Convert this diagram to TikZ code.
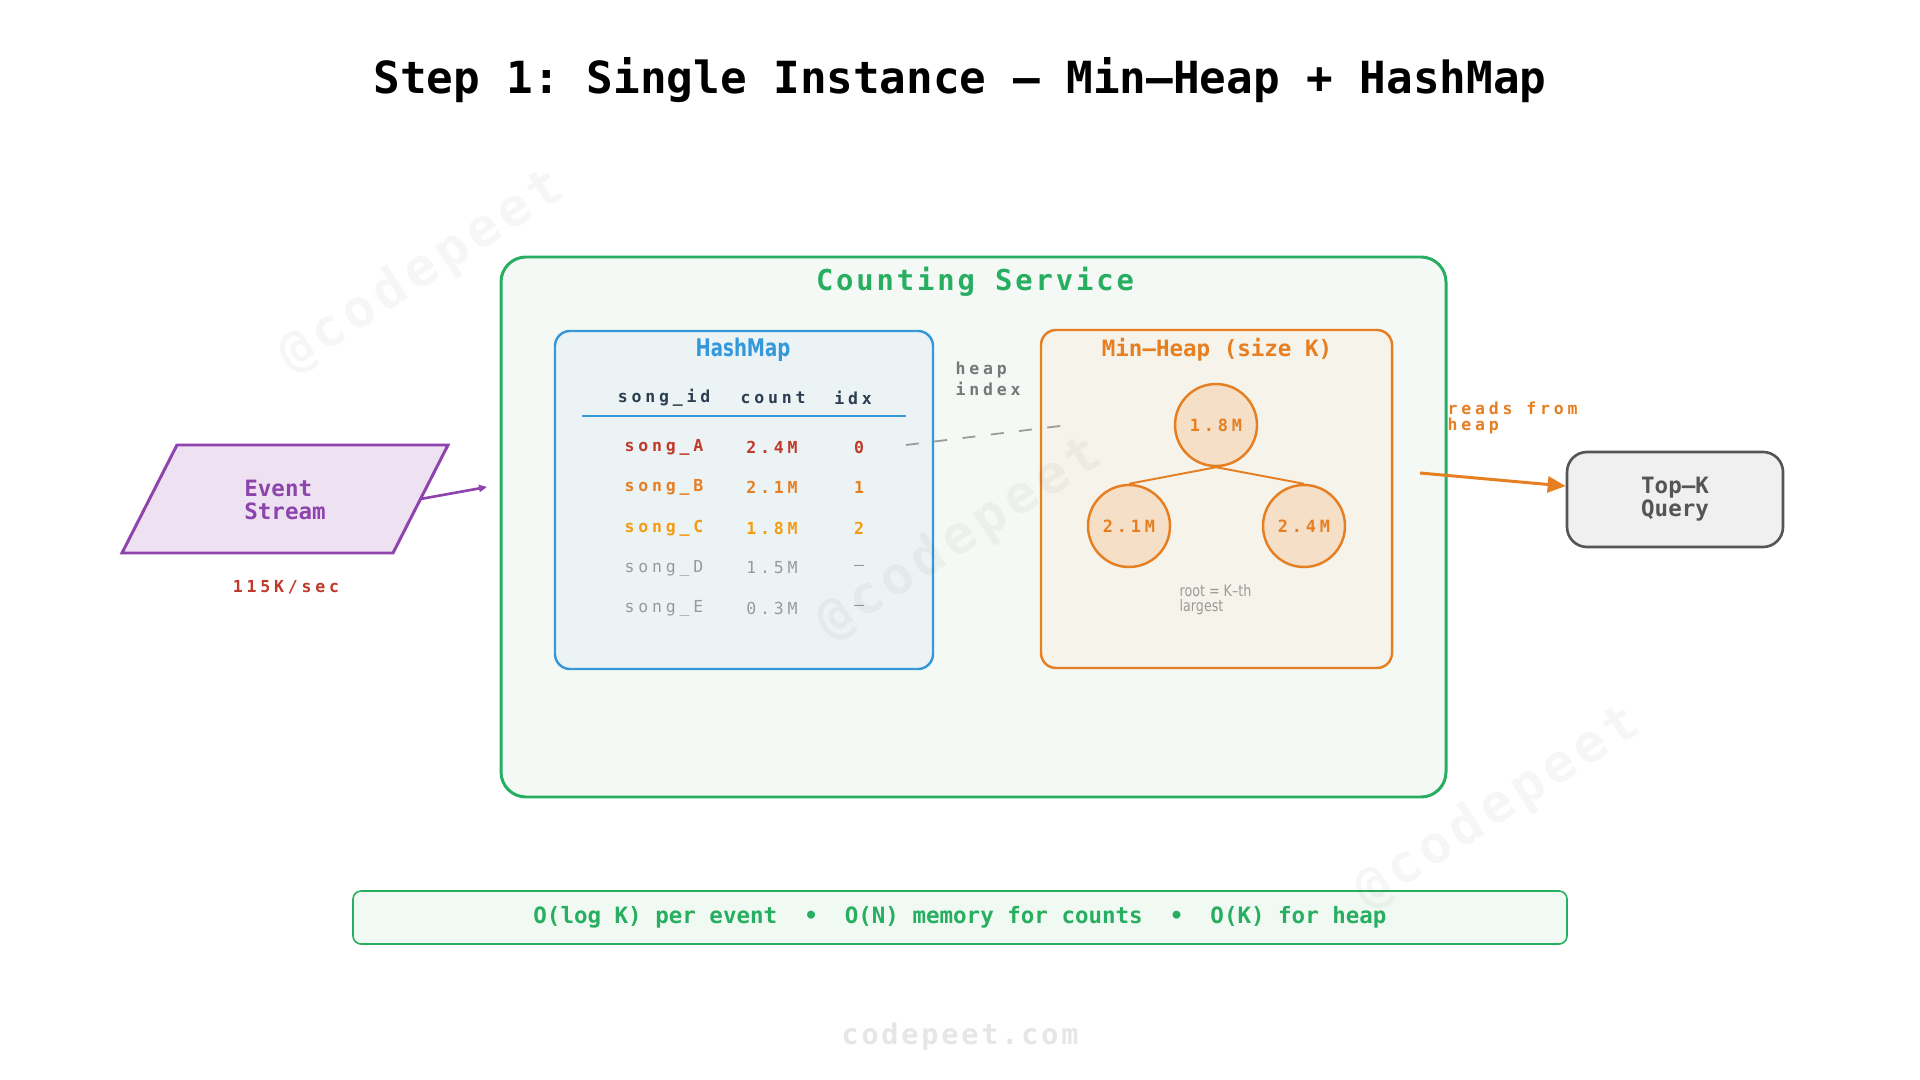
\documentclass[tikz,border=0pt]{standalone}
\usepackage{fontspec}
\setmainfont{DejaVu Sans}
\newfontfamily\monofont{DejaVu Sans Mono}
\newfontfamily\trackfont[LetterSpace=23]{DejaVu Sans Mono}
\newfontfamily\widefont[LetterSpace=10]{DejaVu Sans Mono}
\newfontfamily\narrowfont[FakeStretch=0.75]{DejaVu Sans}
\newfontfamily\notefont[FakeStretch=0.8]{DejaVu Sans}
\usetikzlibrary{arrows.meta,positioning,shapes.geometric}
\frenchspacing

\definecolor{svcgreen}{HTML}{27AE60}
\definecolor{svcfill}{HTML}{F4F9F5}
\definecolor{costfill}{HTML}{F0FAF3}
\definecolor{mapblue}{HTML}{3498DB}
\definecolor{mapfill}{HTML}{EBF3F5}
\definecolor{heaporange}{HTML}{E67E22}
\definecolor{heapfill}{HTML}{F5F3EA}
\definecolor{circfill}{HTML}{F5DFC6}
\definecolor{streampurple}{HTML}{8E44AD}
\definecolor{streamfill}{HTML}{EEE1F2}
\definecolor{rowred}{HTML}{C0392B}
\definecolor{rowyellow}{HTML}{F39C12}
\definecolor{rowgray}{HTML}{9A9A9A}
\definecolor{headdark}{HTML}{2C3E50}
\definecolor{notegray}{HTML}{777777}
\definecolor{querygray}{HTML}{555555}
\definecolor{queryfill}{HTML}{F0F0F0}
\definecolor{footgray}{HTML}{E6E6E6}

\tikzset{
  titletext/.style={font=\monofont\bfseries\fontsize{12.6}{15}\selectfont, inner sep=0pt},
  outerbox/.style={draw=svcgreen, line width=0.85pt, fill=svcfill, rounded corners=0.25cm, minimum width=9.45cm, minimum height=5.40cm},
  svctitle/.style={font=\widefont\bfseries\fontsize{8.2}{9.5}\selectfont, text=svcgreen, inner sep=0pt},
  mapbox/.style={draw=mapblue, line width=0.7pt, fill=mapfill, rounded corners=0.15cm, minimum width=3.78cm, minimum height=3.38cm},
  maptitle/.style={font=\narrowfont\bfseries\fontsize{6.9}{8}\selectfont, text=mapblue, inner sep=0pt},
  headcell/.style={font=\trackfont\bfseries\fontsize{4.7}{5.6}\selectfont, text=headdark, inner sep=0pt},
  cellb/.style={font=\trackfont\bfseries\fontsize{4.7}{5.6}\selectfont, inner sep=0pt},
  cell/.style={font=\trackfont\fontsize{4.7}{5.6}\selectfont, text=rowgray, inner sep=0pt},
  maprule/.style={draw=mapblue, line width=0.45pt},
  heapbox/.style={draw=heaporange, line width=0.7pt, fill=heapfill, rounded corners=0.15cm, minimum width=3.51cm, minimum height=3.38cm},
  heaptitle/.style={font=\monofont\bfseries\fontsize{6.4}{7.6}\selectfont, text=heaporange, inner sep=0pt},
  heapnode/.style={draw=heaporange, circle, line width=0.7pt, fill=circfill, minimum size=0.82cm, inner sep=0pt, font=\trackfont\bfseries\fontsize{4.8}{5.6}\selectfont, text=heaporange},
  treeedge/.style={draw=heaporange, line width=0.55pt},
  rootnote/.style={font=\notefont\fontsize{4.5}{4.3}\selectfont, text=rowgray, align=left, inner sep=0pt},
  smalllabel/.style={font=\trackfont\bfseries\fontsize{4.7}{4.6}\selectfont, align=left, inner sep=0pt},
  idxline/.style={draw=rowgray, line width=0.5pt, dash pattern=on 3.7pt off 4.4pt},
  streamshape/.style={draw=streampurple, line width=0.85pt, fill=streamfill, line join=miter},
  streamtext/.style={align=left, inner sep=0pt, font=\monofont\bfseries\fontsize{6.4}{6.8}\selectfont, text=streampurple},
  feedarrow/.style={draw=streampurple, line width=0.75pt, -{Triangle[length=0.08cm, width=0.07cm]}},
  readarrow/.style={draw=heaporange, line width=0.85pt, -{Triangle[length=0.18cm, width=0.16cm]}},
  querybox/.style={draw=querygray, line width=0.75pt, fill=queryfill, rounded corners=0.2cm, minimum width=2.16cm, minimum height=0.95cm, align=center, font=\monofont\bfseries\fontsize{6.4}{6.6}\selectfont, text=querygray},
  costbox/.style={draw=svcgreen, line width=0.45pt, fill=costfill, rounded corners=0.08cm, minimum width=12.14cm, minimum height=0.53cm, font=\monofont\bfseries\fontsize{6.4}{7.6}\selectfont, text=svcgreen},
  footertext/.style={font=\widefont\bfseries\fontsize{8.1}{9.5}\selectfont, text=footgray, inner sep=0pt},
  watermark/.style={font=\widefont\bfseries\fontsize{15}{17}\selectfont, text=black, text opacity=0.035, inner sep=0pt}
}

\begin{document}
\begin{tikzpicture}[x=1cm,y=1cm]
  \fill[white] (0,0) rectangle (19.2,-10.8);
  \useasboundingbox (0,0) rectangle (19.2,-10.8);

  \node[titletext] (title) at (9.60,-0.80) {Step 1: Single Instance — Min–Heap + HashMap};

  % counting service
  \node[outerbox] (svc) at (9.735,-5.27) {};
  \node[svctitle] (svclbl) at (9.75,-2.82) {Counting Service};

  % hashmap table
  \node[mapbox] (map) at (7.44,-5.00) {};
  \node[maptitle] (maplbl) at (7.43,-3.50) {HashMap};
  \node[headcell] (hid) at (6.64,-3.98) {song\_id};
  \node[headcell] (hcnt) at (7.73,-3.98) {count};
  \node[headcell] (hidx) at (8.53,-3.98) {idx};
  \draw[maprule] (5.82,-4.16) -- (9.06,-4.16);

  \node[cellb, text=rowred] (idA) at (6.64,-4.47) {song\_A};
  \node[cellb, text=rowred] (cntA) at (7.72,-4.47) {2.4M};
  \node[cellb, text=rowred] (ixA) at (8.59,-4.47) {0};
  \node[cellb, text=heaporange] (idB) at (6.64,-4.87) {song\_B};
  \node[cellb, text=heaporange] (cntB) at (7.72,-4.87) {2.1M};
  \node[cellb, text=heaporange] (ixB) at (8.59,-4.87) {1};
  \node[cellb, text=rowyellow] (idC) at (6.64,-5.28) {song\_C};
  \node[cellb, text=rowyellow] (cntC) at (7.72,-5.28) {1.8M};
  \node[cellb, text=rowyellow] (ixC) at (8.59,-5.28) {2};
  \node[cell] (idD) at (6.64,-5.68) {song\_D};
  \node[cell] (cntD) at (7.72,-5.68) {1.5M};
  \node[cell] (ixD) at (8.59,-5.68) {–};
  \node[cell] (idE) at (6.64,-6.08) {song\_E};
  \node[cell] (cntE) at (7.72,-6.08) {0.3M};
  \node[cell] (ixE) at (8.59,-6.08) {–};

  % min-heap
  \node[heapbox] (heap) at (12.165,-4.99) {};
  \node[heaptitle] (heaplbl) at (12.17,-3.50) {Min–Heap (size K)};
  \node[heapnode] (root) at (12.16,-4.25) {1.8M};
  \node[heapnode] (lkid) at (11.29,-5.26) {2.1M};
  \node[heapnode] (rkid) at (13.04,-5.26) {2.4M};
  \draw[treeedge] (root.south) -- (lkid.north);
  \draw[treeedge] (root.south) -- (rkid.north);
  \node[rootnote, anchor=west] (rootlbl) at (11.79,-5.995) {root = K–th\\largest};

  \coordinate (idxout) at (9.06,-4.45);
  \coordinate (idxin) at (10.68,-4.25);
  \draw[idxline] (idxout) -- (idxin);
  \node[smalllabel, text=notegray, anchor=west] (idxlbl) at (9.55,-3.79) {heap\\index};

  % event stream in
  \draw[streamshape] (1.22,-5.53) -- (1.77,-4.45) -- (4.48,-4.45) -- (3.93,-5.53) -- cycle;
  \node[streamtext] (stream) at (2.85,-5.00) {Event\\Stream};
  \coordinate (streamout) at (4.205,-4.99);
  \coordinate (svcin) at (4.87,-4.87);
  \draw[feedarrow] (streamout) -- (svcin);
  \node[smalllabel, text=rowred] (rate) at (2.86,-5.87) {115K/sec};

  % top-k query out
  \node[querybox] (topk) at (16.75,-4.995) {Top–K\\Query};
  \coordinate (heapout) at (14.20,-4.73);
  \draw[readarrow] (heapout) -- (topk.173);
  \node[smalllabel, text=heaporange, anchor=west] (readlbl) at (14.47,-4.18) {reads from\\heap};

  \node[costbox] (cost) at (9.60,-9.175) {O(log K) per event~~•~~O(N) memory for counts~~•~~O(K) for heap};
  \node[footertext] (footer) at (9.60,-10.37) {codepeet.com};

  \node[watermark, rotate=33] (wm1) at (4.22,-2.72) {@codepeet};
  \node[watermark, rotate=33] (wm2) at (9.60,-5.39) {@codepeet};
  \node[watermark, rotate=33] (wm3) at (14.98,-8.08) {@codepeet};
\end{tikzpicture}
\end{document}
